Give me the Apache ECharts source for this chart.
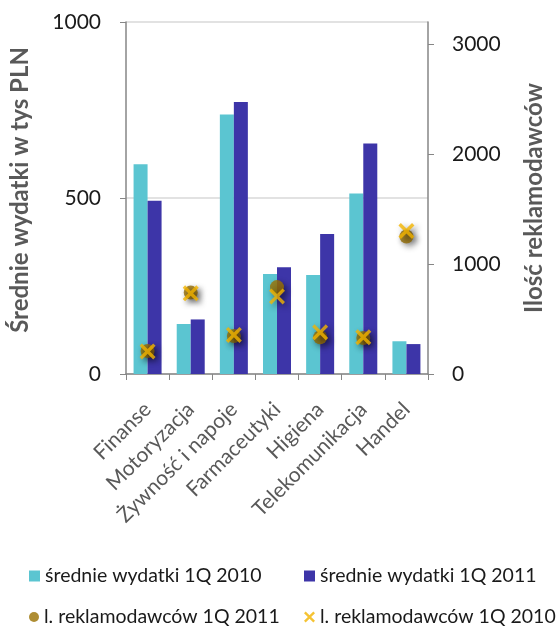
<!DOCTYPE html>
<html>
<head>
<meta charset="utf-8">
<script src="https://cdn.jsdelivr.net/npm/echarts@6/dist/echarts.min.js"></script>
<style>
  html, body { margin: 0; padding: 0; background: #ffffff; }
  #chart { width: 560px; height: 626px; }
</style>
</head>
<body>
<div id="chart"></div>
<script>
// Branże
var categories = ['Finanse', 'Motoryzacja', 'Żywność i napoje', 'Farmaceutyki', 'Higiena', 'Telekomunikacja', 'Handel'];
// Średnie wydatki (tys PLN)
var spend2010 = [596, 142, 737, 284, 281, 513, 93];
var spend2011 = [492, 155, 773, 303, 398, 655, 85];
// Liczba reklamodawców
var adv2011 = [209, 740, 345, 790, 334, 327, 1250];
var adv2010 = [205, 733, 355, 705, 379, 334, 1300];
// Podziałki osi
var leftTicks = [0, 500, 1000];
var rightTicks = [0, 1000, 2000, 3000];

var names = {
  s10: 'średnie wydatki 1Q 2010',
  s11: 'średnie wydatki 1Q 2011',
  a11: 'l. reklamodawców 1Q 2011',
  a10: 'l. reklamodawców 1Q 2010'
};

var FONT = 'Lato';
var CROSS = 'path://M0,3 L3,0 L10,7 L17,0 L20,3 L13,10 L20,17 L17,20 L10,13 L3,20 L0,17 L7,10 Z';
var shadow = { shadowColor: 'rgba(0,0,0,0.55)', shadowBlur: 6, shadowOffsetX: 3, shadowOffsetY: 3 };
var plain = function (v) { return String(v); };

function legendAt(name, left, top, icon, size) {
  return {
    data: [{ name: name, icon: icon }],
    left: left, top: top,
    itemWidth: size, itemHeight: size, itemGap: 0, padding: 0,
    selectedMode: false,
    textStyle: { fontFamily: FONT, fontSize: 19.5, color: '#1a1a1a' }
  };
}

var chart = echarts.init(document.getElementById('chart'), null, { renderer: 'canvas' });
chart.setOption({
  animation: false,
  textStyle: { fontFamily: FONT },
  grid: { left: 126, right: 132, top: 22, bottom: 252 },
  legend: [
    legendAt(names.s10, 29, 566, 'rect', 11),
    legendAt(names.s11, 304, 566, 'rect', 11),
    legendAt(names.a11, 29, 607, 'circle', 10),
    legendAt(names.a10, 304, 607, CROSS, 11)
  ],
  xAxis: {
    type: 'category',
    data: categories,
    boundaryGap: true,
    axisLine: { lineStyle: { color: '#868686', width: 1.5 } },
    axisTick: { show: true, alignWithLabel: false, length: 6, lineStyle: { color: '#868686' } },
    axisLabel: { rotate: 45, margin: 32, fontFamily: FONT, fontSize: 21, color: '#595959', interval: 0 }
  },
  yAxis: [
    {
      type: 'value', min: 0, max: 1000, interval: 500,
      name: 'Średnie wydatki w tys PLN', nameLocation: 'middle', nameRotate: 90, nameGap: 94,
      nameTextStyle: { fontFamily: FONT, fontSize: 24, fontWeight: 'bold', color: '#595959', padding: [0, 0, 0, 16] },
      axisLine: { show: true, lineStyle: { color: '#868686', width: 1.5 } },
      axisTick: { show: true, length: 6, lineStyle: { color: '#868686' }, customValues: leftTicks },
      axisLabel: { margin: 25, fontFamily: FONT, fontSize: 21, color: '#1a1a1a', customValues: leftTicks, formatter: plain },
      splitLine: { show: true, lineStyle: { color: '#d9d9d9', width: 1.5 } }
    },
    {
      type: 'value', min: 0, max: 3200, interval: 1000,
      name: 'Ilość reklamodawców', nameLocation: 'middle', nameRotate: 90, nameGap: 94,
      nameTextStyle: { fontFamily: FONT, fontSize: 24, fontWeight: 'bold', color: '#595959' },
      axisLine: { show: true, lineStyle: { color: '#868686', width: 1.5 } },
      axisTick: { show: true, length: 6, lineStyle: { color: '#868686' }, customValues: rightTicks },
      axisLabel: { margin: 24, fontFamily: FONT, fontSize: 21, color: '#1a1a1a', customValues: rightTicks, formatter: plain },
      splitLine: { show: false }
    }
  ],
  series: [
    {
      name: names.s10, type: 'bar', data: spend2010, yAxisIndex: 0,
      barWidth: 14, barGap: '0%',
      itemStyle: { color: '#5bc5d1' }
    },
    {
      name: names.s11, type: 'bar', data: spend2011, yAxisIndex: 0,
      barWidth: 14, barGap: '0%',
      itemStyle: { color: '#3d35a8' }
    },
    {
      name: names.a11, type: 'scatter', data: adv2011, yAxisIndex: 1,
      symbol: 'circle', symbolSize: 14,
      itemStyle: Object.assign({ color: '#9a7000' }, shadow)
    },
    {
      name: names.a10, type: 'scatter', data: adv2010, yAxisIndex: 1,
      symbol: CROSS, symbolSize: 16,
      itemStyle: Object.assign({ color: '#f2b400' }, shadow)
    }
  ]
});
</script>
</body>
</html>
